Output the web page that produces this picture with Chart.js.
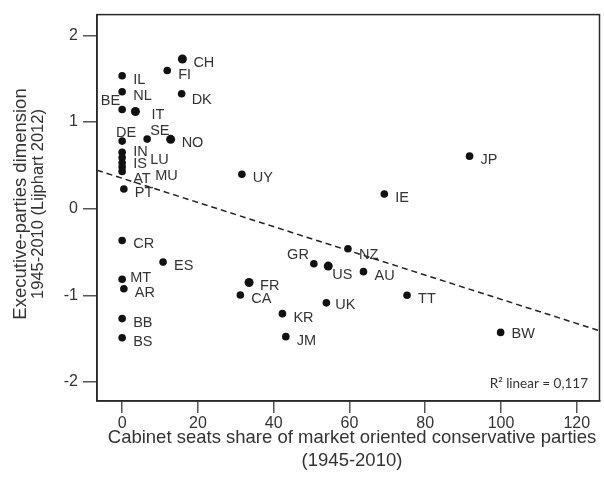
<!DOCTYPE html>
<html>
<head>
<meta charset="utf-8">
<script src="https://cdn.jsdelivr.net/npm/chart.js@4/dist/chart.umd.min.js"></script>
<style>
  html, body { margin: 0; padding: 0; background: #fff; }
  canvas { display: block; }
</style>
</head>
<body>
<canvas id="scatter" width="604" height="479"></canvas>
<script>
// country codes, cabinet share (x) and executive-parties score (y)
const countries = ["CH","FI","IL","NL","DK","BE","IT","DE","SE","NO","IN","LU","IS","MU","AT","PT","UY",
  "CR","ES","MT","AR","BB","BS","FR","CA","KR","JM","JP","IE","NZ","GR","US","AU","TT","UK","BW"];
const seatShare = [15.9, 11.9, 0, 0, 15.7, 0, 3.5, 0, 6.6, 12.8, 0, 0, 0, 0, 0, 0.45, 31.6,
  0, 10.8, 0, 0.45, 0, 0, 33.5, 31.2, 42.3, 43.2, 91.7, 69.2, 59.6, 50.6, 54.4, 63.7, 75.2, 53.9, 99.9];
const execParties = [1.727, 1.594, 1.534, 1.349, 1.326, 1.144, 1.121, 0.78, 0.803, 0.80, 0.65, 0.59, 0.53, 0.48, 0.43, 0.227, 0.398,
  -0.367, -0.617, -0.815, -0.924, -1.269, -1.49, -0.852, -0.996, -1.212, -1.477, 0.606, 0.17, -0.462, -0.636, -0.663, -0.727, -1.0, -1.087, -1.428];

const xTicks = [0, 20, 40, 60, 80, 100, 120];
const yTicks = [-2, -1, 0, 1, 2];

// linear fit shown as dashed line
const fitIntercept = 0.351;
const fitSlope = -0.01397;
const rSquared = "0,117";

const xMin = -6.64, xMax = 126.0, yMin = -2.22, yMax = 2.24;

// label placement tweaks [dx, dy, align]
const labelOffsets = {
  BE: [-2, -9, "right"], DE: [4, -8, "center"], SE: [3, -8, "left"], GR: [-5, -9, "right"],
  US: [4, 9, "left"], LU: [28, 2, "left"], MU: [33, 9, "left"], AT: [11, 8, "left"],
  IT: [16, 3, "left"], MT: [8, -1, "left"], IN: [11, 0, "left"], IS: [11, 1, "left"],
  NZ: [11, 6, "left"], DK: [10, 6, "left"], UK: [9, 2, "left"], BW: [11, 2, "left"]
};
const bigDots = ["CH", "IT", "NO", "FR", "US"];

const points = countries.map((c, i) => ({ x: seatShare[i], y: execParties[i], code: c }));

const textColor = "#333";

const framePlugin = {
  id: "frame",
  afterDatasetsDraw(chart) {
    const { ctx, chartArea: a } = chart;
    ctx.save();
    ctx.strokeStyle = "#2a2a2a";
    ctx.lineWidth = 1.5;
    ctx.strokeRect(a.left, a.top, a.right - a.left, a.bottom - a.top);

    // country codes next to the dots
    const meta = chart.getDatasetMeta(0);
    ctx.font = "14.5px 'Liberation Sans', Arial, sans-serif";
    ctx.fillStyle = textColor;
    ctx.textBaseline = "middle";
    meta.data.forEach((el, i) => {
      const code = countries[i];
      const off = labelOffsets[code] || [11, 4, "left"];
      ctx.textAlign = off[2];
      ctx.fillText(code, el.x + off[0], el.y + off[1]);
    });

    // R squared note
    ctx.font = "13.5px Lato, 'Open Sans', sans-serif";
    ctx.textAlign = "right";
    ctx.textBaseline = "alphabetic";
    ctx.fillText("R\u00B2 linear = " + rSquared, 588, 388);

    // axis titles
    ctx.textAlign = "center";
    ctx.font = "18.5px 'Liberation Sans', Arial, sans-serif";
    ctx.fillText("Cabinet seats share of market oriented conservative parties", 352, 443);
    ctx.fillText("(1945-2010)", 352, 466);

    ctx.translate(0, 204);
    ctx.rotate(-Math.PI / 2);
    ctx.fillText("Executive-parties dimension", 0, 25.5);
    ctx.font = "16.5px 'Liberation Sans', Arial, sans-serif";
    ctx.fillText("1945-2010 (Lijphart 2012)", 0, 43);
    ctx.restore();
  }
};

new Chart(document.getElementById("scatter"), {
  type: "scatter",
  data: {
    datasets: [{
      data: points,
      backgroundColor: "#111",
      borderColor: "#111",
      pointRadius: ctx => bigDots.includes(countries[ctx.dataIndex]) ? 4.5 : 3.8,
      borderWidth: 0
    }, {
      type: "line",
      data: [
        { x: xMin, y: fitIntercept + fitSlope * xMin },
        { x: xMax, y: fitIntercept + fitSlope * xMax }
      ],
      borderColor: "#222",
      borderWidth: 1.5,
      borderDash: [6, 4],
      pointRadius: 0,
      fill: false
    }]
  },
  options: {
    responsive: false,
    animation: false,
    layout: { padding: { left: 0, top: 9, right: 2, bottom: 0 } },
    plugins: { legend: { display: false }, tooltip: { enabled: false } },
    scales: {
      x: {
        type: "linear",
        min: xMin, max: xMax,
        afterBuildTicks: s => { s.ticks = xTicks.map(v => ({ value: v })); },
        afterFit: s => { s.height = 78; },
        grid: { drawOnChartArea: false, color: "#555", lineWidth: 1.5, tickLength: 12 },
        border: { color: "#2a2a2a", width: 1.5 },
        ticks: { color: textColor, padding: 1, maxRotation: 0,
                 font: { family: "'Liberation Sans', Arial, sans-serif", size: 16 } }
      },
      y: {
        type: "linear",
        min: yMin, max: yMax,
        afterBuildTicks: s => { s.ticks = yTicks.map(v => ({ value: v })); },
        afterFit: s => { s.width = 97; },
        grid: { drawOnChartArea: false, color: "#555", lineWidth: 1.5, tickLength: 14 },
        border: { color: "#2a2a2a", width: 1.5 },
        ticks: { color: textColor, padding: 5,
                 font: { family: "'Liberation Sans', Arial, sans-serif", size: 16 } }
      }
    }
  },
  plugins: [framePlugin]
});
</script>
</body>
</html>
